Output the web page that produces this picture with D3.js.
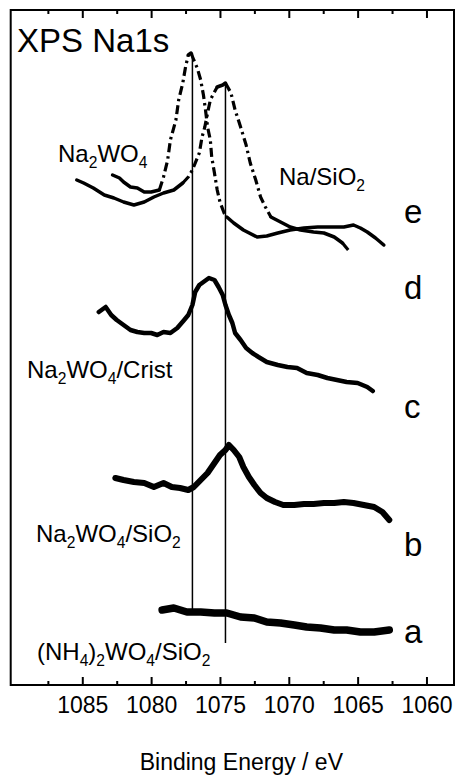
<!DOCTYPE html>
<html>
<head>
<meta charset="utf-8">
<script src="https://cdn.jsdelivr.net/npm/d3@7"></script>
<style>
body { margin: 0; background: #fff; }
text { font-family: Arial, "Liberation Sans", Helvetica, sans-serif; fill: #000; }
</style>
</head>
<body>
<script>
// binding energy (eV) and intensity (arb. units)
var naWO4Energy = [1082.8, 1082.3, 1082.0, 1081.5, 1081.0, 1080.5, 1080.0, 1079.4, 1079.1, 1078.8, 1078.6, 1078.2, 1078.0, 1077.7, 1077.5, 1077.3, 1077.1, 1076.9, 1076.65, 1076.4, 1076.2, 1076.05, 1075.9, 1075.7, 1075.6, 1075.4, 1075.2, 1075.0, 1074.7, 1074.5, 1074.0, 1073.3, 1072.3, 1071.6, 1070.8, 1069.9, 1068.9, 1067.9, 1067.0, 1066.0, 1065.3, 1064.8, 1064.3, 1063.7, 1063.1];
var naWO4Counts = [510, 507, 503, 498, 497, 493, 493, 495, 508, 525, 545, 565, 585, 602, 618, 630, 632, 625, 617, 605, 590, 575, 558, 545, 528, 512, 495, 483, 472, 468, 462, 455, 448, 449, 452, 455, 457, 458, 458, 458, 460, 457, 453, 447, 440];

var naSiEnergy = [1085.4, 1084.9, 1084.2, 1083.4, 1082.7, 1082.0, 1081.25, 1080.5, 1079.8, 1079.1, 1078.35, 1077.7, 1077.3, 1077.0, 1076.5, 1076.3, 1076.1, 1075.9, 1075.7, 1075.4, 1075.2, 1074.8, 1074.6, 1074.2, 1073.9, 1073.5, 1073.1, 1072.8, 1072.4, 1072.05, 1071.7, 1071.3, 1070.6, 1069.9, 1069.15, 1068.2, 1067.45, 1066.7, 1066.1, 1065.5];
var naSiCounts = [505, 502, 497, 490, 487, 483, 480, 483, 488, 492, 495, 502, 508, 515, 532, 548, 558, 572, 585, 593, 598, 600, 602, 592, 575, 558, 540, 522, 505, 488, 478, 468, 463, 458, 455, 453, 452, 448, 442, 432];

var cristEnergy = [1083.8, 1083.3, 1082.9, 1082.5, 1082.0, 1081.5, 1081.0, 1080.5, 1080.0, 1079.55, 1079.1, 1078.6, 1078.1, 1077.6, 1077.3, 1077.0, 1076.8, 1076.5, 1076.2, 1075.8, 1075.4, 1075.1, 1074.8, 1074.6, 1074.35, 1074.1, 1073.9, 1073.5, 1073.1, 1072.65, 1072.2, 1071.6, 1070.8, 1070.1, 1069.4, 1068.7, 1067.9, 1067.2, 1066.5, 1065.8, 1065.0, 1064.3, 1063.9];
var cristCounts = [373, 378, 370, 365, 360, 355, 353, 352, 352, 350, 353, 352, 357, 365, 370, 380, 393, 400, 403, 407, 405, 398, 390, 380, 370, 362, 352, 345, 337, 332, 328, 323, 320, 318, 317, 312, 310, 307, 305, 303, 302, 298, 294];

var wo4SiEnergy = [1082.6, 1082.0, 1081.25, 1080.5, 1079.8, 1079.1, 1078.5, 1077.9, 1077.3, 1076.9, 1076.4, 1075.9, 1075.4, 1075.0, 1074.6, 1074.35, 1074.0, 1073.6, 1073.3, 1072.9, 1072.5, 1072.05, 1071.6, 1071.0, 1070.4, 1069.6, 1068.9, 1068.2, 1067.45, 1066.7, 1066.0, 1065.3, 1064.55, 1063.8, 1063.2, 1062.7];
var wo4SiCounts = [207, 205, 203, 202, 198, 202, 198, 197, 195, 198, 205, 212, 222, 230, 235, 240, 235, 228, 218, 208, 200, 192, 187, 183, 180, 180, 181, 181, 182, 182, 183, 182, 180, 178, 173, 165];

var nh4Energy = [1079.2, 1078.35, 1077.4, 1076.4, 1075.4, 1074.5, 1073.5, 1072.5, 1071.6, 1070.6, 1069.6, 1068.7, 1067.7, 1066.7, 1065.8, 1064.8, 1063.8, 1062.7];
var nh4Counts = [75, 77, 73, 73, 72, 72, 68, 67, 63, 62, 60, 58, 57, 55, 55, 53, 53, 55];

// peak markers: energy, top and bottom intensity of the vertical guide
var peakEnergy = [1077.0, 1074.6];
var peakTop = [632, 602];
var peakBottom = [73, 42];

var majorTicks = [1085, 1080, 1075, 1070, 1065, 1060];
var minorTicks = [1087.5, 1082.5, 1077.5, 1072.5, 1067.5, 1062.5];
var curveLetters = ["e", "d", "c", "b", "a"];

var width = 457, height = 778;

var svg = d3.select("body")
  .append("svg")
  .attr("width", width)
  .attr("height", height)
  .style("background-color", "white");

var x = d3.scaleLinear().domain([1090.2, 1058]).range([10.7, 454]);
var y = d3.scaleLinear().domain([0, 675]).range([685, 10]);

// frame
svg.append("rect")
  .attr("x", x.range()[0]).attr("y", y.range()[1])
  .attr("width", x.range()[1] - x.range()[0])
  .attr("height", y.range()[0] - y.range()[1])
  .attr("fill", "none").attr("stroke", "#000").attr("stroke-width", 2);

// ticks on top and bottom, pointing inwards
var styleAxis = function(g) {
  g.select(".domain").remove();
  g.selectAll("line").attr("stroke", "#000").attr("stroke-width", 2);
  g.selectAll("text").attr("font-size", 23).attr("fill", "#000")
    .style("font-family", "Arial, 'Liberation Sans', Helvetica, sans-serif");
};

svg.append("g").attr("transform", "translate(0," + y.range()[0] + ")")
  .call(d3.axisBottom(x).tickValues(majorTicks).tickSize(-8).tickPadding(12).tickFormat(d3.format("d")))
  .call(styleAxis);
svg.append("g").attr("transform", "translate(0," + y.range()[0] + ")")
  .call(d3.axisBottom(x).tickValues(minorTicks).tickSize(-4).tickFormat(""))
  .call(styleAxis);
svg.append("g").attr("transform", "translate(0," + y.range()[1] + ")")
  .call(d3.axisTop(x).tickValues(majorTicks).tickSize(-8).tickFormat(""))
  .call(styleAxis);
svg.append("g").attr("transform", "translate(0," + y.range()[1] + ")")
  .call(d3.axisTop(x).tickValues(minorTicks).tickSize(-4).tickFormat(""))
  .call(styleAxis);

// vertical guides through the two peak positions
svg.selectAll(".guide")
  .data(peakEnergy)
  .enter()
  .append("line")
  .attr("class", "guide")
  .attr("x1", function(d) { return x(d); })
  .attr("x2", function(d) { return x(d); })
  .attr("y1", function(d, i) { return y(peakTop[i]); })
  .attr("y2", function(d, i) { return y(peakBottom[i]); })
  .attr("stroke", "#000").attr("stroke-width", 1.5);

var line = d3.line()
  .x(function(d) { return x(d.e); })
  .y(function(d) { return y(d.c); });

var drawSpectrum = function(energy, counts, lw, dashSteep) {
  var pts = energy.map(function(e, i) { return {e: e, c: counts[i]}; });
  if (!dashSteep) {
    svg.append("path").datum(pts).attr("d", line)
      .attr("fill", "none").attr("stroke", "#000")
      .attr("stroke-width", lw).attr("stroke-linejoin", "round").attr("stroke-linecap", "round");
    return;
  }
  // steep stretches were sampled sparsely, so they print as dashes
  var runs = [], cur = null;
  for (var i = 1; i < pts.length; i++) {
    var dx = x(pts[i].e) - x(pts[i - 1].e);
    var dy = y(pts[i].c) - y(pts[i - 1].c);
    var steep = Math.abs(dy / dx) > 1;
    if (!cur || cur.steep !== steep) {
      cur = {steep: steep, pts: [pts[i - 1]]};
      runs.push(cur);
    }
    cur.pts.push(pts[i]);
  }
  runs.forEach(function(r) {
    svg.append("path").datum(r.pts).attr("d", line)
      .attr("fill", "none").attr("stroke", "#000")
      .attr("stroke-width", r.steep ? 3.2 : lw)
      .attr("stroke-dasharray", r.steep ? "9,4,2.5,4" : null)
      .attr("stroke-linejoin", "round").attr("stroke-linecap", r.steep ? "butt" : "round");
  });
};

drawSpectrum(naWO4Energy, naWO4Counts, 3.5, true);
drawSpectrum(naSiEnergy, naSiCounts, 3.5, true);
drawSpectrum(cristEnergy, cristCounts, 4.5, false);
drawSpectrum(wo4SiEnergy, wo4SiCounts, 6, false);
drawSpectrum(nh4Energy, nh4Counts, 7.5, false);

// labels with subscripts
var label = function(px, py, parts, size) {
  var t = svg.append("text").attr("x", px).attr("y", py).attr("font-size", size);
  var shift = 0;
  parts.forEach(function(p) {
    var sub = p[1] === 1;
    var dy = (sub ? 6 : 0) - shift;
    shift = sub ? 6 : 0;
    t.append("tspan").attr("dy", dy).attr("font-size", sub ? size * 0.65 : size).text(p[0]);
  });
};

label(17, 52, [["XPS Na1s"]], 33);
label(58, 162, [["Na"], ["2", 1], ["WO"], ["4", 1]], 24);
label(279, 185, [["Na/SiO"], ["2", 1]], 24);
label(27, 378, [["Na"], ["2", 1], ["WO"], ["4", 1], ["/Crist"]], 24);
label(36, 542, [["Na"], ["2", 1], ["WO"], ["4", 1], ["/SiO"], ["2", 1]], 24);
label(37, 660, [["(NH"], ["4", 1], [")"], ["2", 1], ["WO"], ["4", 1], ["/SiO"], ["2", 1]], 24);

var letterBase = [223, 299, 418, 556, 643];
svg.selectAll(".letter")
  .data(curveLetters)
  .enter()
  .append("text")
  .attr("class", "letter")
  .attr("x", 404)
  .attr("y", function(d, i) { return letterBase[i]; })
  .attr("font-size", 33)
  .text(function(d) { return d; });

svg.append("text")
  .attr("x", (x.range()[0] + x.range()[1]) / 2 + 9)
  .attr("y", 770)
  .attr("text-anchor", "middle")
  .attr("font-size", 23)
  .text("Binding Energy / eV");
</script>
</body>
</html>
